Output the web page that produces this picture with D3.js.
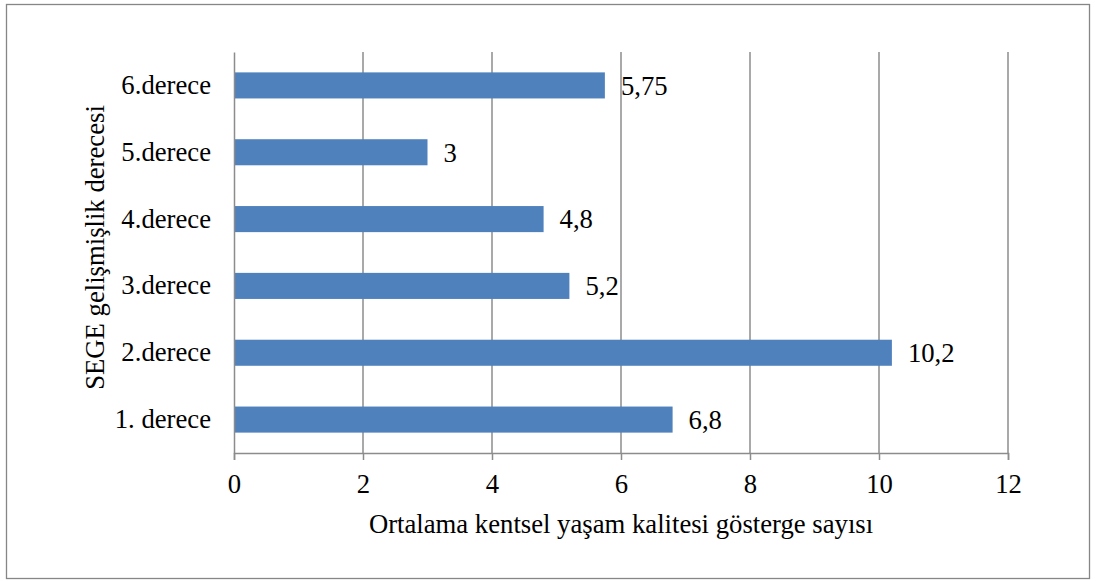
<!DOCTYPE html>
<html><head><meta charset="utf-8">
<script src="https://cdn.jsdelivr.net/npm/d3@7"></script>
<style>body{margin:0;background:#fff}</style>
</head><body>
<svg id="c" width="1096" height="581"></svg>
<script>
const categories = ["1. derece","2.derece","3.derece","4.derece","5.derece","6.derece"];
const values = [6.8, 10.2, 5.2, 4.8, 3, 5.75];
const valueLabels = ["6,8","10,2","5,2","4,8","3","5,75"];
const xTicks = [0,2,4,6,8,10,12];
const xTitle = "Ortalama kentsel yaşam kalitesi gösterge sayısı";
const yTitle = "SEGE gelişmişlik derecesi";

const FF = "'Liberation Serif', 'Times New Roman', serif";
const svg = d3.select("#c");
const L = 234, R = 1008, T = 52, B = 453;
const fs = 26.7;
svg.append("rect").attr("x",6.5).attr("y",4.5).attr("width",1083).attr("height",574)
  .attr("fill","none").attr("stroke","#868686").attr("stroke-width",1.3);

const x = d3.scaleLinear().domain([0,12]).range([L,R]);
const y = d3.scaleBand().domain(categories.slice().reverse()).range([T,B]).paddingInner(0.61).paddingOuter(0.305);

svg.append("g").selectAll("line").data(xTicks.filter(d=>d>0)).join("line")
  .attr("x1",d=>x(d)).attr("x2",d=>x(d)).attr("y1",T).attr("y2",B)
  .attr("stroke","#8c8c8c").attr("stroke-width",1.5);

const xa = svg.append("g").attr("transform",`translate(0,${B})`)
  .call(d3.axisBottom(x).tickValues(xTicks).tickSize(7).tickPadding(14).tickFormat(d3.format("d")));
xa.attr("font-family",null).attr("font-size",null);
xa.select(".domain").attr("stroke","#8c8c8c").attr("stroke-width",1.5);
xa.selectAll(".tick line").attr("stroke","#8c8c8c").attr("stroke-width",1.5);
xa.selectAll("text").style("font-size",fs+"px").style("font-family",FF).attr("fill","#000");

svg.append("g").selectAll("rect").data(categories).join("rect")
  .attr("x",x(0)).attr("y",d=>y(d)).attr("height",y.bandwidth())
  .attr("width",(d,i)=>x(values[i])-x(0)).attr("fill","#4F81BD");

const ya = svg.append("g").attr("transform",`translate(${L},0)`)
  .call(d3.axisLeft(y).tickSize(0).tickPadding(23));
ya.attr("font-family",null).attr("font-size",null);
ya.select(".domain").attr("stroke","#8c8c8c").attr("stroke-width",1.5);
ya.selectAll("text").style("font-size",fs+"px").style("font-family",FF).attr("fill","#000");

svg.append("g").selectAll("text").data(categories).join("text")
  .attr("x",(d,i)=>x(values[i])+16).attr("y",d=>y(d)+y.bandwidth()/2)
  .attr("dy","0.35em").style("font-size",fs+"px").style("font-family",FF).text((d,i)=>valueLabels[i]);

svg.append("text").attr("x",(L+R)/2).attr("y",533).attr("text-anchor","middle")
  .style("font-size",fs+"px").style("font-family",FF).text(xTitle);
svg.append("text").attr("transform",`translate(104,${(T+B)/2-5}) rotate(-90)`).attr("text-anchor","middle")
  .style("font-size",fs+"px").style("font-family",FF).text(yTitle);
</script>
</body></html>
